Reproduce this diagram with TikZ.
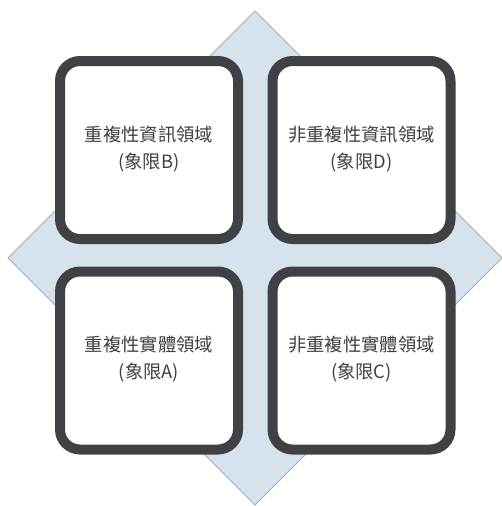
\documentclass[tikz,border=0pt]{standalone}
\usepackage{fontspec}
\setmainfont{Noto Sans CJK TC}
\definecolor{diafill}{HTML}{D6E2EC}
\definecolor{diaedge}{HTML}{A8ADB2}
\definecolor{boxedge}{HTML}{404144}
\definecolor{txt}{HTML}{404040}
\newcommand{\quadtext}[2]{\raisebox{-4pt}{\begin{tabular}{@{}c@{}}#1\\[4pt]#2\end{tabular}}}
\begin{document}
\begin{tikzpicture}[x=1pt,y=-1pt,
  quad/.style={draw=boxedge, line width=10pt, fill=white, rounded corners=20pt,
    minimum width=178pt, minimum height=178pt, inner sep=0pt,
    text=txt, font=\fontsize{18.3}{23}\selectfont, align=center}]
\useasboundingbox (0,0) rectangle (501,506);
\fill[white] (0,0) rectangle (501,506);
\draw[fill=diafill, draw=diaedge, line width=0.8pt] (255,11) -- (502,258) -- (255,505) -- (8,258) -- cycle;
\node[quad] (B) at (149,150) {\quadtext{重複性資訊領域}{(象限B)}};
\node[quad] (D) at (361.5,150) {\quadtext{非重複性資訊領域}{(象限D)}};
\node[quad] (A) at (149,360.5) {\quadtext{重複性實體領域}{(象限A)}};
\node[quad] (C) at (361.5,360.5) {\quadtext{非重複性實體領域}{(象限C)}};
\end{tikzpicture}
\end{document}
